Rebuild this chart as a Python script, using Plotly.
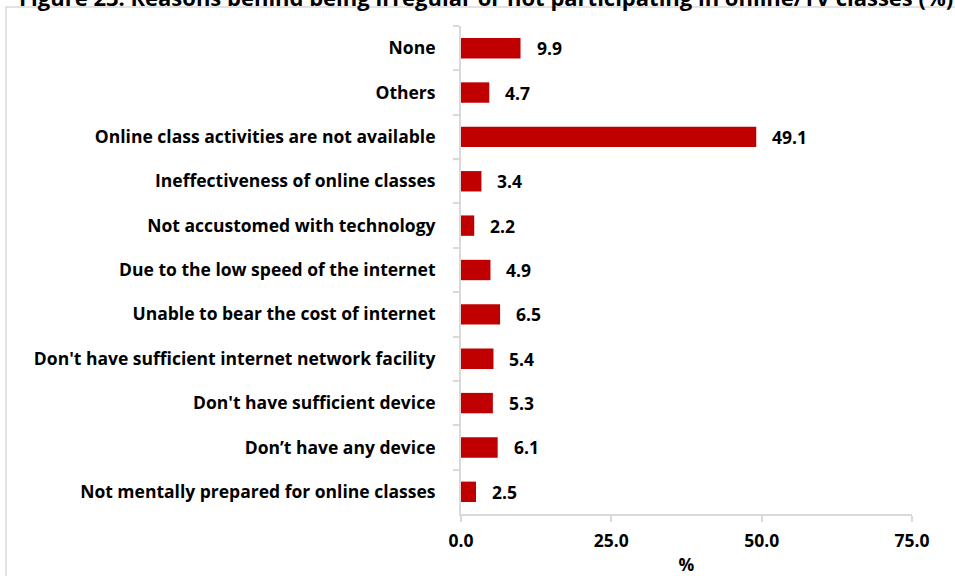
import plotly.graph_objects as go

categories = [
    "None",
    "Others",
    "Online class activities are not available",
    "Ineffectiveness of online classes",
    "Not accustomed with technology",
    "Due to the low speed of the internet",
    "Unable to bear the cost of internet",
    "Don't have sufficient internet network facility",
    "Don't have sufficient device",
    "Don\u2019t have any device",
    "Not mentally prepared for online classes",
]
values = [9.9, 4.7, 49.1, 3.4, 2.2, 4.9, 6.5, 5.4, 5.3, 6.1, 2.5]
x_ticks = [0, 25, 50, 75]
x_ticklabels = ["0.0", "25.0", "50.0", "75.0"]
title_text = "Figure 23: Reasons behind being irregular or not participating in online/TV classes (%)"

FONT = "Open Sans"
FS = 17.5
GRID = "#D9D9D9"
L, R, T, B = 461, 43, 26, 62
PW = 955 - L - R
PH = 576 - T - B

fig = go.Figure()
fig.add_trace(go.Bar(
    y=categories, x=values, orientation="h",
    marker=dict(color="#C00000", line=dict(width=0)),
    width=0.46,
    hoverinfo="skip",
))

for c, v in zip(categories, values):
    fig.add_annotation(x=v, y=c, xref="x", yref="y", text=f"{v:.1f}",
                       showarrow=False, xanchor="left", xshift=14,
                       font=dict(family=FONT, size=FS, color="#000000", weight="bold"))

fig.add_annotation(text="<b>" + title_text + "</b>", xref="paper", yref="paper",
                   x=-(L - 17) / PW, y=1 + (T - 14) / PH, xanchor="left", yanchor="bottom",
                   showarrow=False, font=dict(family=FONT, size=22, color="#000000"))

fig.update_layout(
    width=955, height=576,
    margin=dict(l=L, r=R, t=T, b=B, autoexpand=False),
    paper_bgcolor="white", plot_bgcolor="white",
    showlegend=False,
    font=dict(family=FONT, size=FS, color="#000000"),
    xaxis=dict(range=[0, 75], tickvals=x_ticks, ticktext=x_ticklabels, automargin=False,
               showgrid=False, zeroline=False, showline=True, linecolor=GRID, linewidth=2,
               ticks="outside", ticklen=6, tickcolor=GRID, tickwidth=2,
               ticklabelstandoff=4,
               tickfont=dict(family=FONT, size=FS, weight="bold"),
               title=dict(text="<b>%</b>", font=dict(family=FONT, size=FS), standoff=11)),
    yaxis=dict(categoryorder="array", categoryarray=categories, autorange="reversed",
               automargin=False,
               showgrid=False, zeroline=False, showline=True, linecolor=GRID, linewidth=2,
               ticks="outside", ticklen=6, tickcolor=GRID, tickwidth=2, tickson="boundaries",
               ticklabelstandoff=20,
               tickfont=dict(family=FONT, size=FS, weight="bold")),
    shapes=[dict(type="rect", xref="paper", yref="paper",
                 x0=-(L - 6) / PW, x1=1.2, y0=-0.2, y1=1 + (T - 7) / PH,
                 line=dict(color=GRID, width=1.5), fillcolor="rgba(0,0,0,0)", layer="below")],
)

fig.write_html("out.html", config={"displayModeBar": False},
               post_script="document.body.style.margin='0';")
